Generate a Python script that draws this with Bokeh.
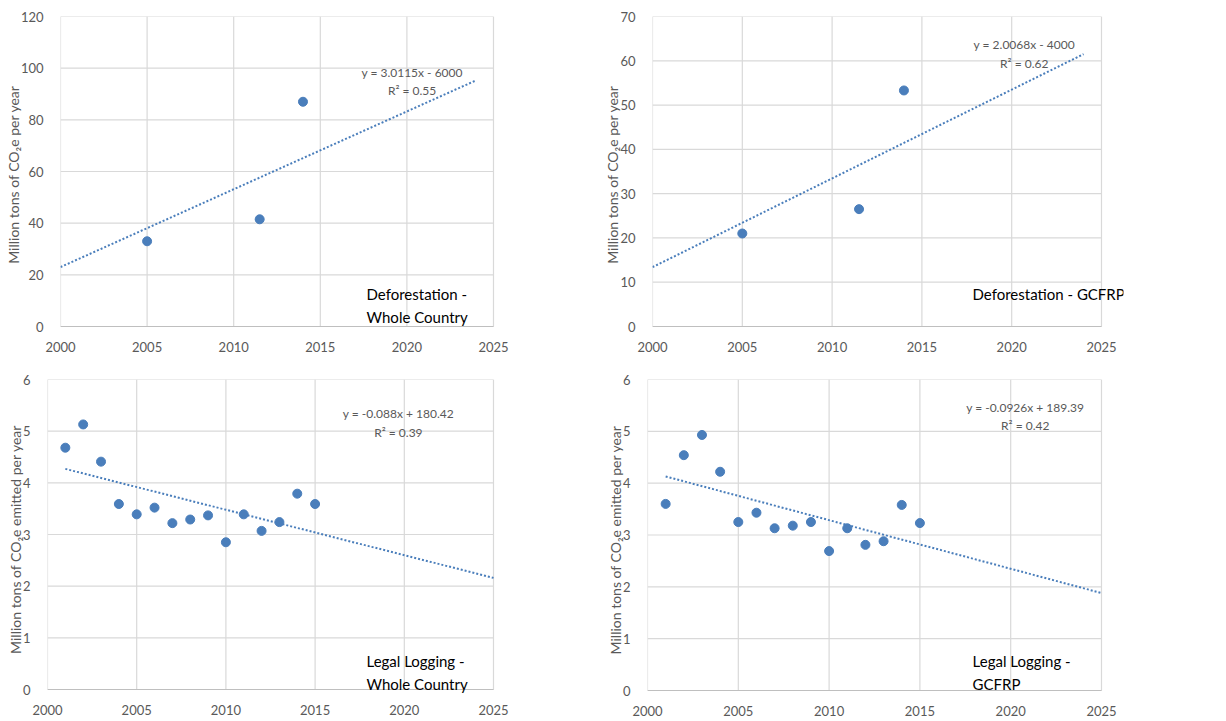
from bokeh.plotting import figure
from bokeh.layouts import row, column
from bokeh.models import Label, Range1d, FixedTicker
from bokeh.embed import file_html
from bokeh.resources import INLINE

# ---------------- data ----------------
defo_whole_x = [2005, 2011.5, 2014]
defo_whole_y = [33.0, 41.5, 87.0]
defo_whole_trend_x = [2000, 2024]
defo_whole_trend_y = [23.0, 95.3]

defo_gcfrp_x = [2005, 2011.5, 2014]
defo_gcfrp_y = [21.0, 26.5, 53.3]
defo_gcfrp_trend_x = [2000, 2024]
defo_gcfrp_trend_y = [13.4, 61.5]

log_years = [2001, 2002, 2003, 2004, 2005, 2006, 2007, 2008, 2009, 2010, 2011, 2012, 2013, 2014, 2015]
log_whole_y = [4.68, 5.13, 4.41, 3.59, 3.39, 3.52, 3.22, 3.29, 3.37, 2.85, 3.39, 3.07, 3.24, 3.79, 3.59]
log_whole_trend_x = [2001, 2025]
log_whole_trend_y = [4.27, 2.16]

log_gcfrp_y = [3.60, 4.54, 4.93, 4.22, 3.25, 3.43, 3.13, 3.18, 3.25, 2.69, 3.13, 2.81, 2.88, 3.58, 3.23]
log_gcfrp_trend_x = [2001, 2025]
log_gcfrp_trend_y = [4.13, 1.88]

x_ticks = [2000, 2005, 2010, 2015, 2020, 2025]

FONT = "Lato"
GREY = "#595959"
BLUE = "#4a7ebb"
GRID = "#d9d9d9"
XMIN, XMAX = 2000, 2025
EXT_R = 22   # extra frame pixels on the right (so texts are not clipped)
EXT_B = 6    # extra frame pixels at the bottom


def make_panel(xs, ys, tx, ty, ymax, ystep, ytitle, eq, r2, eq_pos, labels,
               fw, fh, bl, br, bt, bb, xstand):
    y_ticks = list(range(0, ymax + 1, ystep))
    x_end = XMAX + EXT_R * (XMAX - XMIN) / fw
    y_start = -EXT_B * ymax / fh
    p = figure(frame_width=fw + EXT_R, frame_height=fh + EXT_B,
               min_border_left=bl, min_border_right=br,
               min_border_top=bt, min_border_bottom=bb, output_backend="svg",
               toolbar_location=None, x_range=Range1d(XMIN, x_end),
               y_range=Range1d(y_start, ymax))
    p.background_fill_color = "white"
    p.border_fill_color = "white"
    p.outline_line_color = None
    p.xgrid.visible = False
    p.ygrid.visible = False
    p.xaxis.ticker = FixedTicker(ticks=x_ticks)
    p.yaxis.ticker = FixedTicker(ticks=y_ticks)
    for ax in (p.xaxis[0], p.yaxis[0]):
        ax.major_tick_line_color = None
        ax.minor_tick_line_color = None
        ax.axis_line_color = None
        ax.major_label_text_font = FONT
        ax.major_label_text_font_size = "13px"
        ax.major_label_text_color = GREY
    p.xaxis.major_label_standoff = xstand
    p.yaxis.major_label_standoff = 11
    p.yaxis.axis_label = ytitle
    p.yaxis.axis_label_text_font = FONT
    p.yaxis.axis_label_text_font_size = "14px"
    p.yaxis.axis_label_text_font_style = "normal"
    p.yaxis.axis_label_text_color = GREY
    p.yaxis.axis_label_standoff = -4

    # gridlines (drawn over the 2000-2025 box only)
    p.segment(x0=[XMIN] * len(y_ticks), x1=[XMAX] * len(y_ticks), y0=y_ticks, y1=y_ticks,
              line_color=GRID, line_width=1.2)
    p.segment(x0=x_ticks, x1=x_ticks, y0=[0] * len(x_ticks), y1=[ymax] * len(x_ticks),
              line_color=GRID, line_width=1.2)
    p.segment(x0=[XMIN], x1=[XMAX], y0=[0], y1=[0], line_color="#bfbfbf", line_width=1.2)

    p.line(tx, ty, line_color=BLUE, line_width=2, line_dash="2 2")
    p.scatter(xs, ys, size=9, fill_color=BLUE, line_color=BLUE)

    ex, ey1, ey2 = eq_pos
    for txt, yy in ((eq, ey1), (r2, ey2)):
        p.add_layout(Label(x=ex, y=yy, text=txt, text_font=FONT, text_font_size="12px",
                           text_color=GREY, text_align="center", text_baseline="middle"))
    lx, lys, ltexts = labels
    for txt, yy in zip(ltexts, lys):
        p.add_layout(Label(x=lx, y=yy, text=txt, text_font=FONT, text_font_size="15px",
                           text_color="black", text_align="left", text_baseline="middle"))
    return p


title1 = "Million tons of CO\u2082e per year"
title2 = "Million tons of CO\u2082e emitted  per year"

TOP_B = 24
BOT_T = 23
BOT_B = 24

p1 = make_panel(defo_whole_x, defo_whole_y, defo_whole_trend_x, defo_whole_trend_y, 120, 20, title1,
                "y = 3.0115x - 6000", "R\u00b2 = 0.55", (2020.3, 98.3, 91.4),
                (2017.67, [12.4, 3.5], ["Deforestation -", "Whole Country"]),
                433, 310, 60, 85, 16, TOP_B, 3)
p2 = make_panel(defo_gcfrp_x, defo_gcfrp_y, defo_gcfrp_trend_x, defo_gcfrp_trend_y, 70, 10, title1,
                "y = 2.0068x - 4000", "R\u00b2 = 0.62", (2020.7, 63.7, 59.4),
                (2017.82, [7.45], ["Deforestation - GCFRP"]),
                449, 310, 52, 87, 16, TOP_B, 3)
p3 = make_panel(log_years, log_whole_y, log_whole_trend_x, log_whole_trend_y, 6, 1, title2,
                "y = -0.088x + 180.42", "R\u00b2 = 0.39", (2019.67, 5.34, 4.97),
                (2017.88, [0.56, 0.116], ["Legal Logging -", "Whole Country"]),
                446, 310, 47, 85, BOT_T, BOT_B, 3)
p4 = make_panel(log_years, log_gcfrp_y, log_gcfrp_trend_x, log_gcfrp_trend_y, 6, 1, title2,
                "y = -0.0926x + 189.39", "R\u00b2 = 0.42", (2020.8, 5.46, 5.11),
                (2017.9, [0.56, 0.135], ["Legal Logging -", "GCFRP"]),
                454, 311, 47, 87, BOT_T, BOT_B - 1, 3)

layout = column(row(p1, p2), row(p3, p4))

open("out.html", "w").write(file_html(layout, INLINE))
